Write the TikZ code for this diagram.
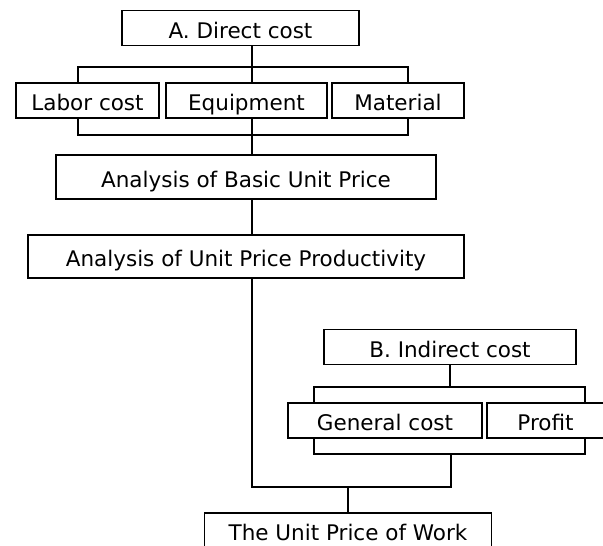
\documentclass[tikz,border=0pt]{standalone}
\usepackage{fontspec}
\setmainfont{DejaVu Sans}
\begin{document}
\begin{tikzpicture}[x=1pt, y=-1pt, line width=1.3pt,
    box/.style={draw, inner sep=0pt, minimum height=35pt, text height=21pt, text depth=1pt,
        font=\fontsize{21.5}{24}\selectfont}]
    \useasboundingbox (0,0) rectangle (603,546);
    \clip (0,0) rectangle (603,546);
    % A. direct cost
    \node[box, minimum width=237pt] (direct) at (240.5,28) {A. Direct cost};
    \node[box, minimum width=143pt] (labor) at (87.5,100.5) {Labor cost};
    \node[box, minimum width=161pt] (equip) at (246.5,100.5) {Equipment};
    \node[box, minimum width=132pt] (mat) at (398,100.5) {Material};
    \node[box, minimum width=380pt, minimum height=44pt] (basic) at (246,177) {Analysis of Basic Unit Price};
    \node[box, minimum width=436pt, minimum height=43pt] (prod) at (246,256.5) {Analysis of Unit Price Productivity};
    % B. indirect cost
    \node[box, minimum width=252pt] (indir) at (450,347) {B. Indirect cost};
    \node[box, minimum width=194pt] (gen) at (385,420.5) {General cost};
    \node[box, minimum width=117pt] (profit) at (545.5,420.5) {Profit};
    \node[box, minimum width=287pt, minimum height=34pt] (unit) at (348,530) {The Unit Price of Work};
    % connectors
    \coordinate (spine) at (252,0);
    \coordinate (ul) at (78,67);
    \coordinate (ur) at (408,67);
    \coordinate (ll) at (78,135);
    \coordinate (lr) at (408,135);
    \coordinate (bl) at (314,387);
    \coordinate (br) at (585,387);
    \coordinate (cl) at (314,454);
    \coordinate (cr) at (585,454);
    \coordinate (join) at (451,487);
    \draw (spine |- direct.south) -- (spine |- equip.north);
    \draw (ul |- labor.north) -- (ul) -- (ur) -- (ur |- mat.north);
    \draw (ll |- labor.south) -- (ll) -- (lr) -- (lr |- mat.south);
    \draw (spine |- equip.south) -- (spine |- basic.north);
    \draw (spine |- basic.south) -- (spine |- prod.north);
    \draw (spine |- prod.south) -- (spine |- join) -- (join) -- (join |- cl);
    \draw (indir.south) -- (indir.south |- bl);
    \draw (bl |- gen.north) -- (bl) -- (br) -- (br |- profit.north);
    \draw (cl |- gen.south) -- (cl) -- (cr) -- (cr |- profit.south);
    \draw (unit.north |- join) -- (unit.north);
\end{tikzpicture}
\end{document}
